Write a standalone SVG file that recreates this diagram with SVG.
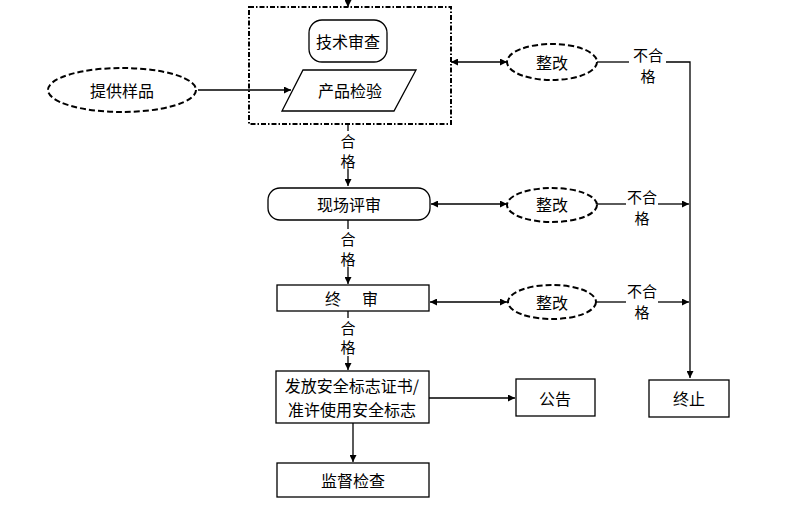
<svg xmlns="http://www.w3.org/2000/svg" width="799" height="526" viewBox="0 0 799 526">
<style>
text{font-family:"Noto Sans CJK SC","Liberation Sans",sans-serif;font-size:16px;fill:#000;text-anchor:middle;dominant-baseline:central}
.lbl{font-size:15px}
.box{fill:#fff;stroke:#000;stroke-width:1.3}
.dash{fill:#fff;stroke:#000;stroke-width:2;stroke-dasharray:6,3}
.ln{fill:none;stroke:#000;stroke-width:1.3}
</style>
<defs>
<marker id="ah" viewBox="0 0 10 10" refX="10" refY="5" markerWidth="7" markerHeight="7" markerUnits="userSpaceOnUse" orient="auto-start-reverse">
<path d="M0,0 L10,5 L0,10 z" fill="#000"/>
</marker>
</defs>
<rect width="799" height="526" fill="#fff"/>
<g id="connectors">
<line class="ln" x1="348" y1="0" x2="348" y2="7" marker-end="url(#ah)"/>
<line class="ln" x1="198" y1="90" x2="291" y2="90" marker-end="url(#ah)"/>
<line class="ln" x1="451" y1="62" x2="507" y2="62" marker-start="url(#ah)" marker-end="url(#ah)"/>
<polyline class="ln" points="597,62 629,62"/>
<polyline class="ln" points="666,62 690,62 690,378" marker-end="url(#ah)"/>
<text class="lbl" x="648" y="54">不合<tspan x="648" dy="21">格</tspan></text>
<line class="ln" x1="348" y1="124" x2="348" y2="131"/>
<line class="ln" x1="348" y1="169" x2="348" y2="186" marker-end="url(#ah)"/>
<text class="lbl" x="348" y="140">合<tspan x="348" dy="20">格</tspan></text>
<line class="ln" x1="431" y1="204" x2="507" y2="204" marker-start="url(#ah)" marker-end="url(#ah)"/>
<line class="ln" x1="597" y1="204" x2="626" y2="204"/>
<line class="ln" x1="658" y1="204" x2="689" y2="204" marker-end="url(#ah)"/>
<text class="lbl" x="642" y="196">不合<tspan x="642" dy="21">格</tspan></text>
<line class="ln" x1="348" y1="220" x2="348" y2="229"/>
<line class="ln" x1="348" y1="267" x2="348" y2="284" marker-end="url(#ah)"/>
<text class="lbl" x="348" y="238">合<tspan x="348" dy="20">格</tspan></text>
<line class="ln" x1="430" y1="302" x2="507" y2="302" marker-start="url(#ah)" marker-end="url(#ah)"/>
<line class="ln" x1="596" y1="302" x2="626" y2="302"/>
<line class="ln" x1="658" y1="302" x2="689" y2="302" marker-end="url(#ah)"/>
<text class="lbl" x="642" y="290">不合<tspan x="642" dy="21">格</tspan></text>
<line class="ln" x1="348" y1="311" x2="348" y2="318"/>
<line class="ln" x1="348" y1="356" x2="348" y2="370" marker-end="url(#ah)"/>
<text class="lbl" x="348" y="327">合<tspan x="348" dy="19">格</tspan></text>
<line class="ln" x1="429" y1="398" x2="515" y2="398" marker-end="url(#ah)"/>
<line class="ln" x1="353" y1="423" x2="353" y2="462" marker-end="url(#ah)"/>
</g>
<g id="review-group">
<rect x="249" y="7" width="202" height="117" fill="none" stroke="#000" stroke-width="2" stroke-dasharray="5,2,1.5,2"/>
</g>
<g id="tech-review">
<rect class="box" x="309" y="20" width="78" height="42" rx="13"/>
<text x="348" y="41">技术审查</text>
</g>
<g id="product-test">
<polygon class="box" points="303,70 416,70 394,111 282,111"/>
<text x="350" y="90">产品检验</text>
</g>
<g id="sample">
<ellipse class="dash" cx="122" cy="90" rx="74" ry="22"/>
<text x="122" y="90">提供样品</text>
</g>
<g id="fix1">
<ellipse class="dash" cx="552" cy="62" rx="45" ry="18"/>
<text x="552" y="62">整改</text>
</g>
<g id="site-review">
<rect class="box" x="268" y="188" width="162" height="32" rx="12"/>
<text x="349" y="204">现场评审</text>
</g>
<g id="fix2">
<ellipse class="dash" cx="552" cy="205" rx="45" ry="17"/>
<text x="552" y="204">整改</text>
</g>
<g id="final-review">
<rect class="box" x="277" y="285" width="152" height="26"/>
<text x="333" y="298">终</text>
<text x="370" y="298">审</text>
</g>
<g id="fix3">
<ellipse class="dash" cx="552" cy="302" rx="44" ry="17"/>
<text x="552" y="302">整改</text>
</g>
<g id="certificate">
<rect class="box" x="276" y="371" width="153" height="52"/>
<text x="352" y="385">发放安全标志证书/</text>
<text x="352" y="409">准许使用安全标志</text>
</g>
<g id="announce">
<rect class="box" x="516" y="379" width="79" height="37"/>
<text x="555" y="398">公告</text>
</g>
<g id="terminate">
<rect class="box" x="649" y="380" width="80" height="37"/>
<text x="689" y="398">终止</text>
</g>
<g id="supervision">
<rect class="box" x="277" y="463" width="152" height="34"/>
<text x="353" y="480">监督检查</text>
</g>
</svg>
